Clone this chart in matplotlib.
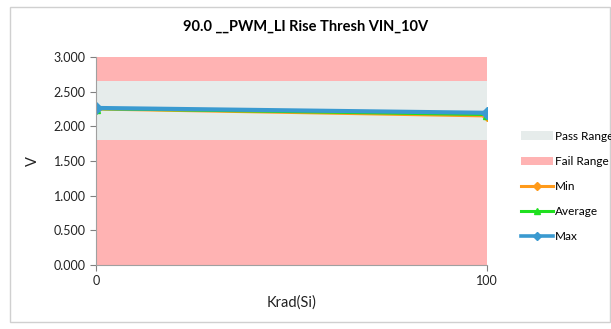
import matplotlib
matplotlib.use('Agg')
import matplotlib.pyplot as plt
from matplotlib.patches import Rectangle, Patch
from matplotlib.lines import Line2D

plt.rcParams['font.family'] = ['Lato', 'DejaVu Sans']

# ── Data ─────────────────────────────────────────────────────────────────────
krad = [0, 100]
v_min = [2.250, 2.150]
v_avg = [2.255, 2.170]
v_max = [2.265, 2.195]
pass_low, pass_high = 1.8, 2.65
y_lo, y_hi = 0.0, 3.0
y_ticks = [0.0, 0.5, 1.0, 1.5, 2.0, 2.5, 3.0]

pass_color = '#E6ECEB'
fail_color = '#FFB3B3'
c_min, c_avg, c_max = '#FF9A1A', '#1FE01F', '#3A9AD0'

fig = plt.figure(figsize=(6.11, 3.29), dpi=100)
fig.patches.append(Rectangle((10 / 611, 7 / 329), 600 / 611, 315 / 329,
                             transform=fig.transFigure, fill=False,
                             edgecolor='#D0D0D0', linewidth=1))
ax = fig.add_axes([96 / 611, 1 - 265 / 329, 391 / 611, 208 / 329])

# pass / fail bands
ax.fill_between(krad, y_lo, pass_low, color=fail_color, linewidth=0)
ax.fill_between(krad, pass_low, pass_high, color=pass_color, linewidth=0)
ax.fill_between(krad, pass_high, y_hi, color=fail_color, linewidth=0)

ax.plot(krad, v_min, color=c_min, lw=2.2, marker='D', ms=5)
ax.plot(krad, v_avg, color=c_avg, lw=2.2, marker='^', ms=6)
ax.plot(krad, v_max, color=c_max, lw=3, marker='D', ms=6)

ax.set_xlim(0, 100)
ax.set_ylim(y_lo, y_hi)
ax.set_xticks(krad)
ax.set_yticks(y_ticks)
ax.set_yticklabels([f'{t:.3f}' for t in y_ticks])
ax.tick_params(labelsize=9, colors='#808080', labelcolor='#222222',
               length=4, width=0.8)
for s in ['top', 'right']:
    ax.spines[s].set_visible(False)
for s in ['left', 'bottom']:
    ax.spines[s].set_color('#A0A0A0')
    ax.spines[s].set_linewidth(0.8)

ax.set_xlabel('Krad(Si)', fontsize=10.5, color='#222222', labelpad=6)
ax.set_ylabel('V', fontsize=10.5, color='#222222', labelpad=10)
fig.text(0.5, 1 - 27 / 329, '90.0 __PWM_LI Rise Thresh VIN_10V',
         ha='center', va='center', fontsize=10.5, fontweight='bold')

handles = [
    Patch(facecolor=pass_color, edgecolor='none'),
    Patch(facecolor=fail_color, edgecolor='none'),
    Line2D([], [], color=c_min, lw=2.2, marker='D', ms=4),
    Line2D([], [], color=c_avg, lw=2.2, marker='^', ms=5),
    Line2D([], [], color=c_max, lw=2.6, marker='D', ms=4),
]
labels = ['Pass Range', 'Fail Range', 'Min', 'Average', 'Max']
fig.legend(handles, labels, loc='upper left',
           bbox_to_anchor=(516 / 611, 1 - 126 / 329), frameon=False,
           fontsize=8.5, handlelength=2.7, handletextpad=0.2,
           labelspacing=1.2, borderaxespad=0)

fig.savefig('out.png', dpi=100)
